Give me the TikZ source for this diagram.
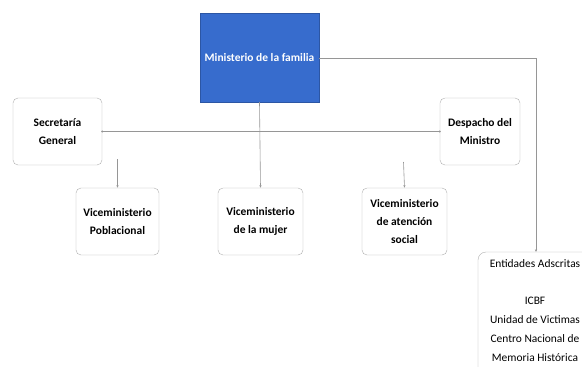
\documentclass[tikz,border=0pt]{standalone}
\usepackage{fontspec}
\setmainfont{Carlito}
\usetikzlibrary{arrows.meta}
\definecolor{bluebox}{RGB}{55,108,205}
\definecolor{boxline}{RGB}{175,175,175}
\definecolor{conn}{RGB}{150,150,150}
\begin{document}
\begin{tikzpicture}[x=1bp,y=-1bp,
  orgbox/.style={draw=boxline,rounded corners=5bp,fill=white,align=center,font=\bfseries\fontsize{11.5}{18.5}\selectfont,inner sep=0pt},
  conline/.style={draw=conn,line width=0.6bp},
  arr/.style={conline,-{Latex[length=2.5bp,width=2.5bp]}},
  dot/.style={fill=conn,circle,inner sep=0pt,minimum size=2.2bp}]
\useasboundingbox (0,0) rectangle (582,366);
\clip (0,0) rectangle (582,366);
% nodes
\node[fill=bluebox,draw=bluebox!80!black,minimum width=119bp,minimum height=89bp,inner sep=0pt,
  text=white,font=\bfseries\fontsize{11.5}{14}\selectfont] (min) at (259.5,57.5) {Ministerio de la familia};
\node[orgbox,minimum width=89bp,minimum height=67bp] (sec) at (57.5,131.5) {Secretaría\\General};
\node[orgbox,minimum width=80bp,minimum height=67bp] (des) at (480,131.5) {Despacho del\\Ministro};
\node[orgbox,minimum width=83bp,minimum height=67bp] (vp) at (117.5,221.5) {Viceministerio\\Poblacional};
\node[orgbox,minimum width=85bp,minimum height=67bp] (vm) at (260.5,221.5) {Viceministerio\\de la mujer};
\node[orgbox,minimum width=85bp,minimum height=67bp] (va) at (404.5,221.5) {Viceministerio\\de atención\\social};
\draw[boxline,rounded corners=8bp,fill=white] (478,380) -- (478,252) -- (600,252) -- (600,380);
\node[coordinate] (entTop) at (536,252) {};
\node[align=center,font=\fontsize{11.5}{18.8}\selectfont,anchor=north] (ent) at (535,256)
  {Entidades Adscritas\\ \\ICBF\\Unidad de Victimas\\Centro Nacional de\\Memoria Histórica};
% connectors
\coordinate (c1) at (536,58);
\draw[conline] (min.east |- c1) -- (c1);
\draw[arr] (c1) -- (entTop);
\draw[conline] (sec.east) -- (des.west);
\node[dot] at (sec.east) {};
\node[dot] at (des.west) {};
\draw[arr] (min.south) -- (vm.north);
\coordinate (s1) at (117.5,159);
\coordinate (s2) at (403.5,162);
\draw[arr] (s1) -- (vp.north);
\draw[arr] (s2) -- (va.north);
\end{tikzpicture}
\end{document}
